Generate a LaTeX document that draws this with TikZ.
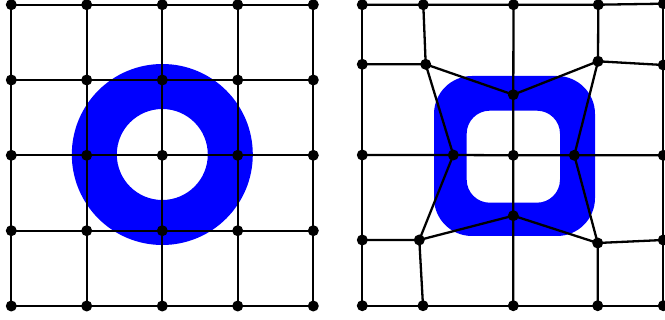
\documentclass[tikz,border=0pt]{standalone}
\begin{document}
\begin{tikzpicture}[x=1pt,y=-1pt,
  dot/.style={circle,fill=black,inner sep=0pt,minimum size=11pt},
  edge/.style={line width=2.3pt,black},
  ringfill/.style={fill={rgb,255:red,0;green,0;blue,255},even odd rule}]
\useasboundingbox (0,0) rectangle (665,320);
% rings
\fill[ringfill] (162.3,154.5) circle (90.5) (162.3,154.5) circle (45.5);
\fill[ringfill] (434,76) [rounded corners=38pt] rectangle (595,236)
  [rounded corners=23pt] (466.7,110.7) rectangle (560,202.7);
% left grid nodes
\foreach \x [count=\j from 0] in {11.3,86.7,162.3,237.7,313.3}
  \foreach \y [count=\i from 0] in {4.7,80,155.3,230.7,306}
    \node[dot] (L\i\j) at (\x,\y) {};
% right grid nodes
\node[dot] (R00) at (362.3,4.7) {};
\node[dot] (R01) at (423.3,4.7) {};
\node[dot] (R02) at (513.5,4.7) {};
\node[dot] (R03) at (598.3,4.7) {};
\node[dot] (R04) at (663.3,3.7) {};
\node[dot] (R10) at (362.3,64.3) {};
\node[dot] (R11) at (425.7,64.3) {};
\node[dot] (R12) at (513.3,94.7) {};
\node[dot] (R13) at (598,61.3) {};
\node[dot] (R14) at (663.3,65) {};
\node[dot] (R20) at (362.3,155) {};
\node[dot] (R21) at (453.3,155) {};
\node[dot] (R22) at (513.3,155.3) {};
\node[dot] (R23) at (574.3,155.3) {};
\node[dot] (R24) at (663.3,155.3) {};
\node[dot] (R30) at (362.3,240) {};
\node[dot] (R31) at (419.3,240) {};
\node[dot] (R32) at (513.3,215.7) {};
\node[dot] (R33) at (597.7,243) {};
\node[dot] (R34) at (663.3,240) {};
\node[dot] (R40) at (362.3,305.7) {};
\node[dot] (R41) at (423,305.7) {};
\node[dot] (R42) at (513.3,305.7) {};
\node[dot] (R43) at (597.7,305.7) {};
\node[dot] (R44) at (663.3,305.7) {};
% edges
\foreach \p in {L,R}{
  \foreach \i in {0,...,4}{
    \draw[edge] (\p\i0.center) -- (\p\i1.center) -- (\p\i2.center) -- (\p\i3.center) -- (\p\i4.center);
    \draw[edge] (\p0\i.center) -- (\p1\i.center) -- (\p2\i.center) -- (\p3\i.center) -- (\p4\i.center);
  }
}
\end{tikzpicture}
\end{document}
